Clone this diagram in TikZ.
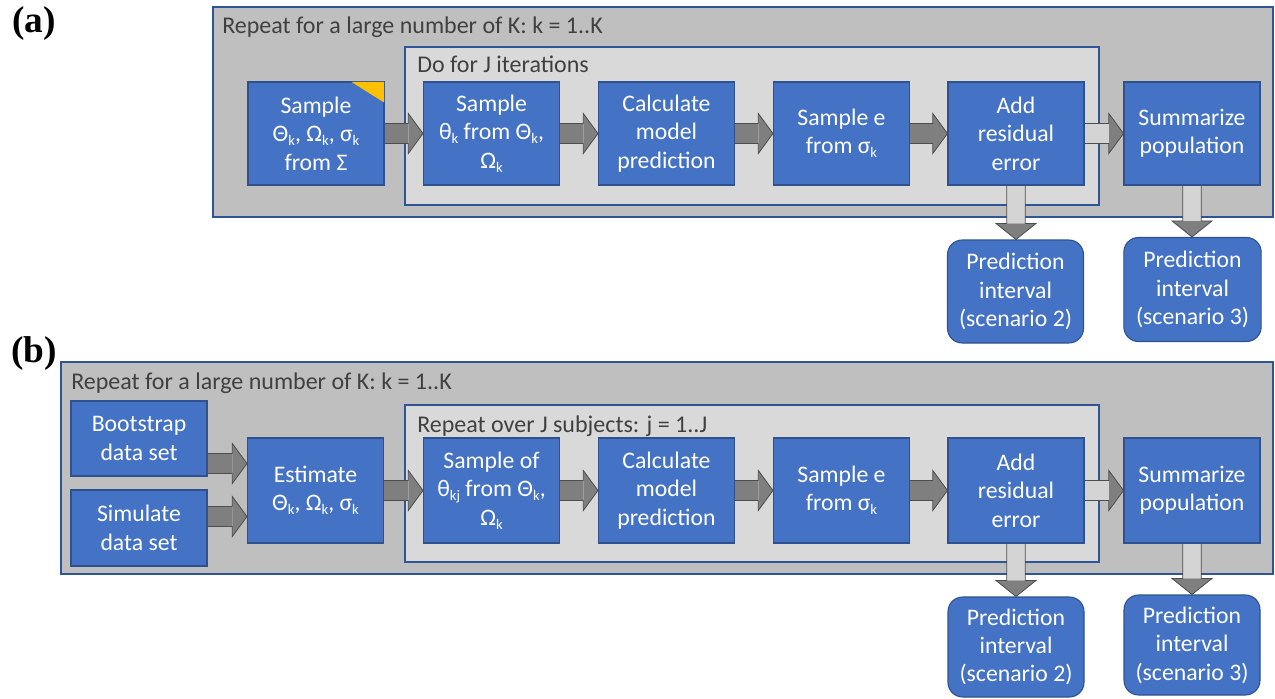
\documentclass[tikz,border=0pt]{standalone}
\usepackage{fontspec}
\setmainfont{Carlito}
\newfontfamily\panelfont{Liberation Serif}
\usetikzlibrary{calc}

\definecolor{boxblue}{HTML}{4472C4}
\definecolor{boxedge}{HTML}{2F528F}
\definecolor{outerbg}{HTML}{BFBFBF}
\definecolor{innerbg}{HTML}{D9D9D9}
\definecolor{frameedge}{HTML}{2F5597}
\definecolor{arrowfill}{HTML}{7F7F7F}
\definecolor{arrowpale}{HTML}{D4D4D4}
\definecolor{arrowedge}{HTML}{4D4D4D}
\definecolor{titlegray}{HTML}{404040}
\definecolor{cornermark}{HTML}{FFC000}

% lowered subscript in the text font
\newcommand\lo[1]{\raisebox{-0.35ex}{\fontsize{11}{11}\selectfont #1}}

% horizontal block arrow: #1 start, #2 end, #3 shaft fill, #4 head fill
\newcommand\blockH[4]{%
  \fill[#4] let \p1=(#1), \p2=(#2) in
    (\x2-11pt,\y1+15pt) -- (\x2,\y1) -- (\x2-11pt,\y1-15pt) -- cycle;
  \fill[#3] let \p1=(#1), \p2=(#2) in
    (\x1,\y1+7.5pt) rectangle (\x2-11pt,\y1-7.5pt);
  \draw[arrowline] let \p1=(#1), \p2=(#2) in
    (\x1,\y1+7.5pt) -- (\x2-11pt,\y1+7.5pt) -- (\x2-11pt,\y1+15pt) -- (\x2,\y1)
    -- (\x2-11pt,\y1-15pt) -- (\x2-11pt,\y1-7.5pt) -- (\x1,\y1-7.5pt);}

% downward block arrow: #1 start, #2 end, #3 shaft fill, #4 head fill
\newcommand\blockV[4]{%
  \fill[#4] let \p1=(#1), \p2=(#2) in
    (\x1-15pt,\y2+12pt) -- (\x1,\y2) -- (\x1+15pt,\y2+12pt) -- cycle;
  \fill[#3] let \p1=(#1), \p2=(#2) in
    (\x1-7pt,\y1) rectangle (\x1+7pt,\y2+12pt);
  \draw[arrowline] let \p1=(#1), \p2=(#2) in
    (\x1-7pt,\y1) -- (\x1-7pt,\y2+12pt) -- (\x1-15pt,\y2+12pt) -- (\x1,\y2)
    -- (\x1+15pt,\y2+12pt) -- (\x1+7pt,\y2+12pt) -- (\x1+7pt,\y1);}

\begin{document}
\begin{tikzpicture}[x=0.75pt,y=-0.75pt,
  stepbox/.style={draw=boxedge, fill=boxblue, text=white, line width=0.8pt,
    align=center, inner sep=0pt, minimum width=102pt,
    font=\fontsize{17.8}{21.3}\selectfont},
  resultbox/.style={stepbox, rounded corners=11pt},
  outerframe/.style={draw=frameedge, fill=outerbg, line width=1pt, inner sep=0pt},
  innerframe/.style={draw=frameedge, fill=innerbg, line width=1pt, inner sep=0pt},
  frametitle/.style={anchor=base west, inner sep=0pt, text=titlegray,
    font=\fontsize{18}{21}\selectfont},
  panellabel/.style={inner sep=0pt, font=\panelfont\bfseries\fontsize{28}{32}\selectfont},
  arrowline/.style={draw=arrowedge, line width=0.6pt, line join=miter},
]
\useasboundingbox (0,0) rectangle (1275,699);

% ---------------- panel (a) ----------------
\node[panellabel] (labA) at (34,24) {(a)};
\node[outerframe, minimum width=795pt, minimum height=157.5pt] (outA) at (743,112) {};
\node[frametitle] (titA) at (222,34) {Repeat for a large number of K: k = 1..K};
\node[innerframe, minimum width=520.5pt, minimum height=118.5pt] (inA) at (752,126) {};
\node[frametitle] (subA) at (417,73) {Do for J iterations};

\node[stepbox, minimum height=77.25pt] (a1) at (316,133.5)
  {Sample\\\char"0398\lo{k}, \char"03A9\lo{k}, \char"03C3\lo{k}\\from \char"03A3};
\fill[cornermark] ($(a1.north east)+(-33,0.5)$) -- ($(a1.north east)+(-0.5,0.5)$)
  -- ($(a1.north east)+(-0.5,21)$) -- cycle;
\node[stepbox, minimum height=77.25pt] (a2) at (491.5,133.5)
  {Sample\\\char"03B8\lo{k} from \char"0398\lo{k},\\\char"03A9\lo{k}};
\node[stepbox, minimum height=77.25pt] (a3) at (666.5,133.5)
  {Calculate\\model\\prediction};
\node[stepbox, minimum height=77.25pt] (a4) at (841.5,133.5)
  {Sample e\\from \char"03C3\lo{k}};
\node[stepbox, minimum height=77.25pt] (a5) at (1016,133.5)
  {Add\\residual\\error};
\node[stepbox, minimum height=77.25pt] (a6) at (1192,133.5)
  {Summarize\\population};
\node[resultbox, minimum height=77.25pt] (a7) at (1015.5,291.5)
  {Prediction\\interval\\(scenario 2)};
\node[resultbox, minimum height=78pt, minimum width=103pt] (a8) at (1192.5,289.5)
  {Prediction\\interval\\(scenario 3)};

\blockH{a1.east}{a2.west}{arrowfill}{arrowfill}
\blockH{a2.east}{a3.west}{arrowfill}{arrowfill}
\blockH{a3.east}{a4.west}{arrowfill}{arrowfill}
\blockH{a4.east}{a5.west}{arrowfill}{arrowfill}
\blockH{a5.east}{a6.west}{arrowpale}{arrowfill}
\blockV{a5.south}{a7.north}{arrowpale}{arrowfill}
\blockV{a6.south}{a8.north}{arrowpale}{arrowfill}

% ---------------- panel (b) ----------------
\node[panellabel] (labB) at (34,354) {(b)};
\node[outerframe, minimum width=909pt, minimum height=159pt] (outB) at (667,468) {};
\node[frametitle] (titB) at (71,389) {Repeat for a large number of K: k = 1..K};
\node[innerframe, minimum width=520.5pt, minimum height=117.75pt] (inB) at (752,483.5) {};
\node[frametitle] (subB) at (417,432) {Repeat over J subjects: j = 1..J};

\node[stepbox, minimum height=56.25pt] (b1) at (139,438.5) {Bootstrap\\data set};
\node[stepbox, minimum height=57pt] (b2) at (139,528) {Simulate\\data set};
\node[stepbox, minimum height=78.75pt] (b3) at (315.5,490.5)
  {Estimate\\\char"0398\lo{k}, \char"03A9\lo{k}, \char"03C3\lo{k}};
\node[stepbox, minimum height=78.75pt] (b4) at (491.5,490.5)
  {Sample of\\\char"03B8\lo{kj} from \char"0398\lo{k},\\\char"03A9\lo{k}};
\node[stepbox, minimum height=78.75pt] (b5) at (666.5,490.5)
  {Calculate\\model\\prediction};
\node[stepbox, minimum height=78.75pt] (b6) at (841.5,490.5)
  {Sample e\\from \char"03C3\lo{k}};
\node[stepbox, minimum height=78.75pt] (b7) at (1016,490.5)
  {Add\\residual\\error};
\node[stepbox, minimum height=78.75pt] (b8) at (1192,490.5)
  {Summarize\\population};
\node[resultbox, minimum height=75pt] (b9) at (1016,647)
  {Prediction\\interval\\(scenario 2)};
\node[resultbox, minimum height=75pt] (b10) at (1192,645)
  {Prediction\\interval\\(scenario 3)};

% entry points of the two data-set arrows on the estimate box
\coordinate (inTop) at ($(b3.west)+(0,-27)$);
\coordinate (inBot) at ($(b3.west)+(0,26)$);
\blockH{b1.east |- inTop}{inTop}{arrowfill}{arrowfill}
\blockH{b2.east |- inBot}{inBot}{arrowfill}{arrowfill}
\blockH{b3.east}{b4.west}{arrowfill}{arrowfill}
\blockH{b4.east}{b5.west}{arrowfill}{arrowfill}
\blockH{b5.east}{b6.west}{arrowfill}{arrowfill}
\blockH{b6.east}{b7.west}{arrowfill}{arrowfill}
\blockH{b7.east}{b8.west}{arrowpale}{arrowfill}
\blockV{b7.south}{b9.north}{arrowpale}{arrowfill}
\blockV{b8.south}{b10.north}{arrowpale}{arrowfill}
\end{tikzpicture}
\end{document}
